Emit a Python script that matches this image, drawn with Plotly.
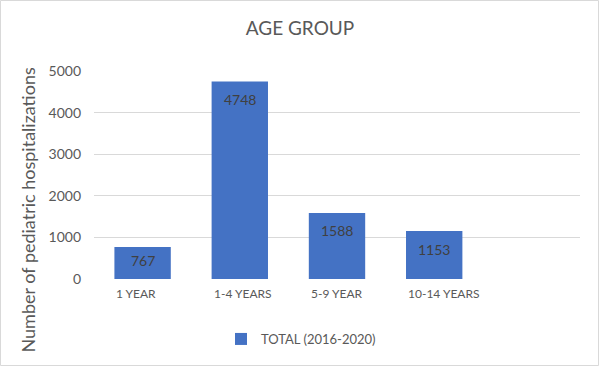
import plotly.graph_objects as go

categories = ["1 YEAR", "1-4 YEARS", "5-9 YEAR", "10-14 YEARS"]
values = [767, 4748, 1588, 1153]
series_name = "TOTAL (2016-2020)"
y_ticks = [0, 1000, 2000, 3000, 4000, 5000]

W, H = 600, 367
ML, MR, MT, MB = 94, 20, 71, 88
PW, PH = W - ML - MR, H - MT - MB
YMAX = 5000
BAR_W = 0.58
FONT = "Lato"
GRAY = "#595959"

xs = list(range(len(categories)))

fig = go.Figure()
fig.add_trace(go.Bar(
    x=xs, y=values, width=BAR_W, name=series_name,
    marker=dict(color="#4472C4", line=dict(width=0)),
    showlegend=True,
))

annotations = []
# data labels (inside end)
for x, v in zip(xs, values):
    h_px = v * PH / YMAX
    shift = -min(18, h_px / 2 - 2.5)
    annotations.append(dict(
        x=x, y=v, xref="x", yref="y", text=str(v), showarrow=False,
        yanchor="middle", xanchor="center", yshift=shift,
        font=dict(family=FONT, size=14, color="#404040"),
    ))
# category labels, left aligned with bar edges
for x, c in zip(xs, categories):
    annotations.append(dict(
        x=x - BAR_W / 2, y=(MT + PH - 293) / PH, xref="x", yref="paper",
        text=c, showarrow=False, xanchor="left", yanchor="middle",
        font=dict(family=FONT, size=12, color=GRAY),
    ))
# y-axis title
annotations.append(dict(
    x=(27 - ML) / PW, y=(MT + PH - 210.5) / PH, xref="paper", yref="paper",
    text="Number of pediatric hospitalizations", textangle=-90,
    showarrow=False, xanchor="center", yanchor="middle",
    font=dict(family=FONT, size=18, color=GRAY),
))

fig.update_layout(
    width=W, height=H,
    margin=dict(l=ML, r=MR, t=MT, b=MB, pad=0),
    paper_bgcolor="white", plot_bgcolor="white",
    title=dict(text="AGE GROUP", x=0.5, xref="container", xanchor="center",
               y=1 - 28 / H, yref="container", yanchor="middle",
               font=dict(family=FONT, size=19, color=GRAY)),
    xaxis=dict(range=[-0.5, 4.5], showticklabels=False, showgrid=False,
               zeroline=False, showline=False, ticks=""),
    yaxis=dict(range=[0, YMAX], tickvals=y_ticks, showgrid=True,
               gridcolor="#D9D9D9", gridwidth=1, zeroline=False,
               showline=False, ticks="", ticklabelstandoff=12,
               tickfont=dict(family=FONT, size=14, color=GRAY)),
    legend=dict(orientation="h", x=(221 - ML) / PW, xanchor="left",
                y=(MT + PH - 339) / PH, yanchor="middle",
                font=dict(family=FONT, size=13, color=GRAY),
                bgcolor="rgba(0,0,0,0)", itemwidth=30),
    annotations=annotations,
    shapes=[dict(type="rect", xref="paper", yref="paper",
                 x0=(0.5 - ML) / PW, x1=(W - 1.5 - ML) / PW,
                 y0=(MT + PH - (H - 1.5)) / PH, y1=(MT + PH - 0.5) / PH,
                 line=dict(color="#D9D9D9", width=1), layer="below")],
)

fig.write_html("out.html",
               config={"displayModeBar": False},
               post_script="document.body.style.margin='0';"
                           "document.body.style.overflow='hidden';")
